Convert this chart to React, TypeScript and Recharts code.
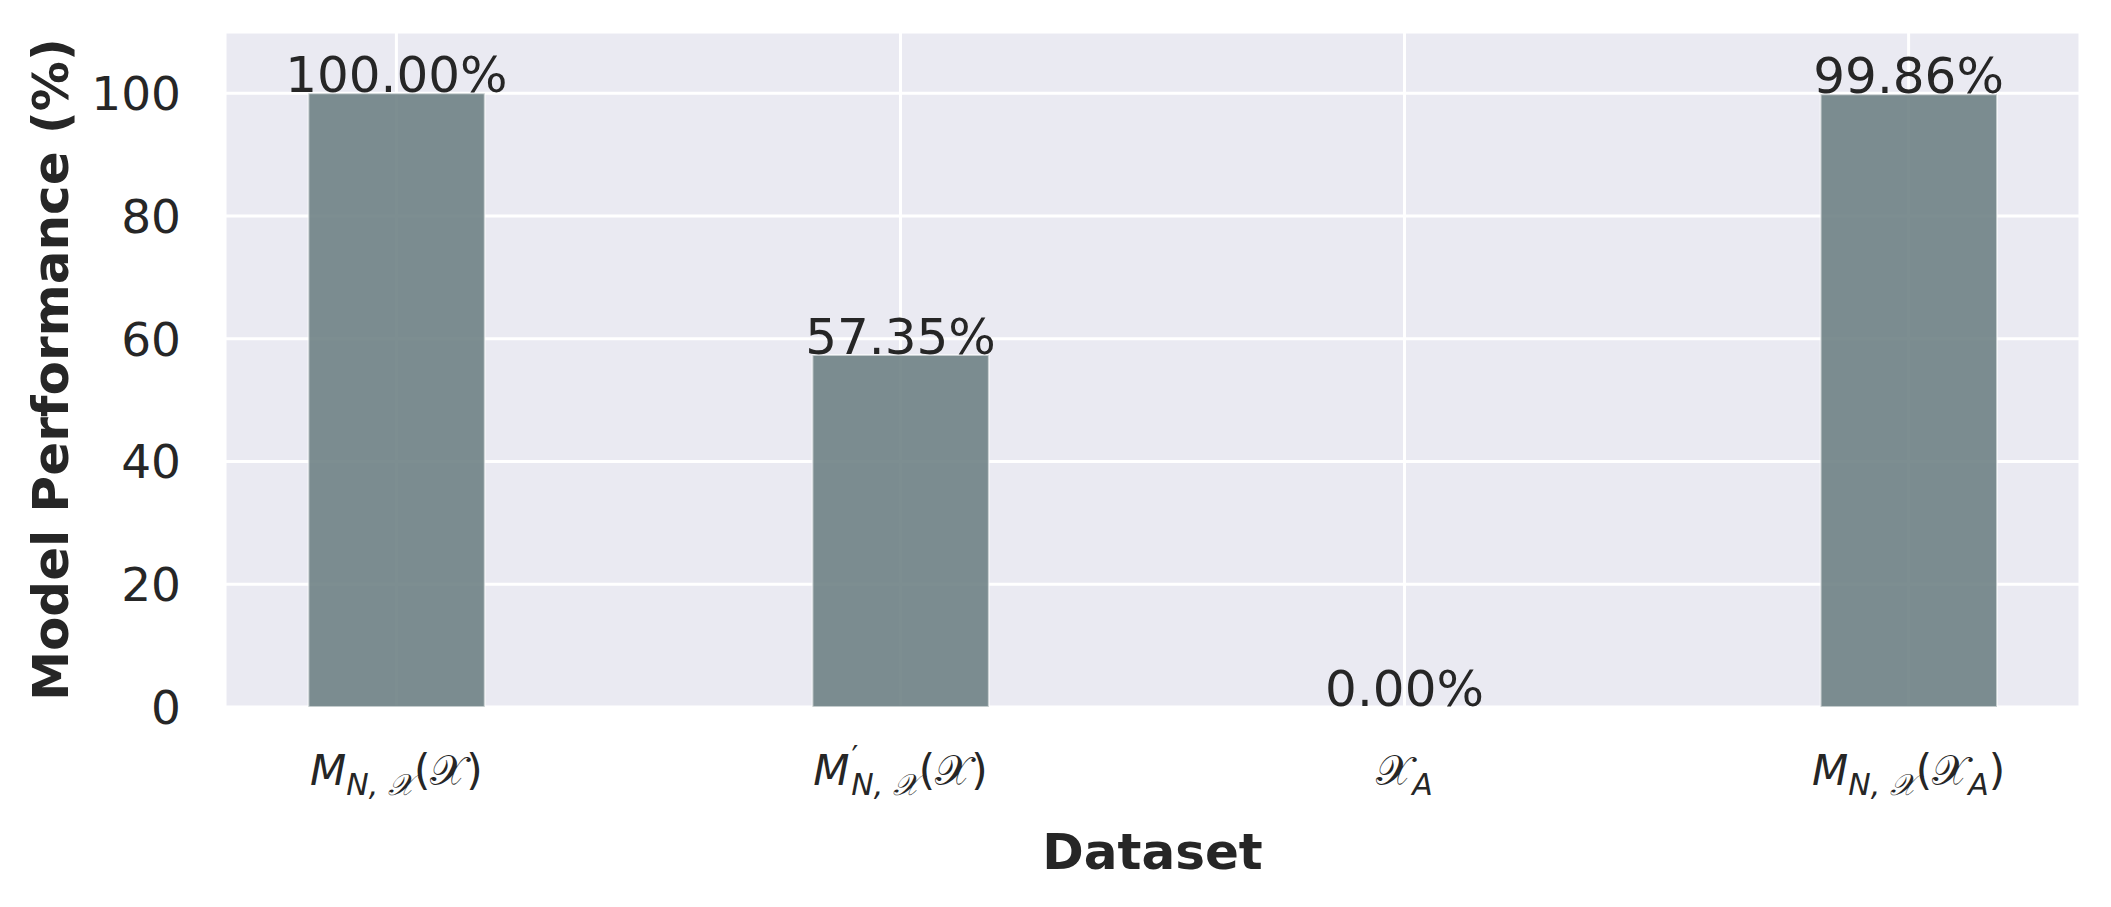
import { ComposedChart, Bar, Line, XAxis, YAxis, CartesianGrid, LabelList, Label } from "recharts";

const datasets = ["M_N,X(X)", "M'_N,X(X)", "X_A", "M_N,X(X_A)"];
const positions = [0, 1, 2, 3];
const performance = [100, 57.35, 0, 99.86];
const yTicks = [0, 20, 40, 60, 80, 100];

const data = datasets.map((name, i) => ({ name, pos: positions[i], value: performance[i] }));

const W = 2111;
const H = 907;
const X_AXIS_H = 30;
const M = { top: 32, right: 31, bottom: 200 - X_AXIS_H, left: 5 };
const Y_AXIS_W = 220;
const X_DOMAIN: [number, number] = [-0.34, 3.34];
const plotW = W - M.left - M.right - Y_AXIS_W;
const barSize = (plotW / (X_DOMAIN[1] - X_DOMAIN[0])) * 0.35;

const FONT = "'DejaVu Sans', sans-serif";
const INK = "#262626";
const SCRIPT_X = "\u{1D4B3}";

function MathTick(props: any) {
  const { x, y, payload } = props;
  const i = positions.indexOf(payload.value);
  const fs = 42;
  const sub = 30;
  const down = 10;
  let body: any = null;
  if (i === 0) {
    body = (
      <>
        <tspan fontStyle="italic">M</tspan>
        <tspan fontSize={sub} fontStyle="italic" dy={down}>N, {SCRIPT_X}</tspan>
        <tspan dy={-down}>({SCRIPT_X})</tspan>
      </>
    );
  } else if (i === 1) {
    body = (
      <>
        <tspan fontStyle="italic">M</tspan>
        <tspan fontSize={sub} dx={2} dy={-18}>′</tspan>
        <tspan fontSize={sub} fontStyle="italic" dx={-7} dy={18 + down}>N, {SCRIPT_X}</tspan>
        <tspan dy={-down}>({SCRIPT_X})</tspan>
      </>
    );
  } else if (i === 2) {
    body = (
      <>
        <tspan>{SCRIPT_X}</tspan>
        <tspan fontSize={sub} fontStyle="italic" dy={down}>A</tspan>
      </>
    );
  } else {
    body = (
      <>
        <tspan fontStyle="italic">M</tspan>
        <tspan fontSize={sub} fontStyle="italic" dy={down}>N, {SCRIPT_X}</tspan>
        <tspan dy={-down}>({SCRIPT_X}</tspan>
        <tspan fontSize={sub} fontStyle="italic" dy={down}>A</tspan>
        <tspan dy={-down}>)</tspan>
      </>
    );
  }
  return (
    <text x={x} y={y + 70} textAnchor="middle" fontSize={fs} fontFamily={FONT} fill={INK}>
      {body}
    </text>
  );
}

function ValueLabel(props: any) {
  const { x, y, value } = props;
  return (
    <text x={x} y={y - 1} textAnchor="middle" fontSize={50} fontFamily={FONT} fill={INK}>
      {Number(value).toFixed(2)}%
    </text>
  );
}

export default function App() {
  return (
    <div style={{ position: "absolute", left: 0, top: 0, background: "#fff" }}>
      <ComposedChart width={W} height={H} data={data} margin={M}>
        <CartesianGrid fill="#EAEAF2" stroke="#ffffff" strokeWidth={3} />
        <XAxis
          dataKey="pos"
          type="number"
          height={X_AXIS_H}
          domain={X_DOMAIN}
          ticks={positions}
          allowDataOverflow
          axisLine={false}
          tickLine={false}
          tick={<MathTick />}
          interval={0}
        >
          <Label
            content={({ viewBox }: any) => (
              <text
                x={viewBox.x + viewBox.width / 2}
                y={869}
                textAnchor="middle"
                fontSize={50}
                fontWeight="bold"
                fontFamily={FONT}
                fill={INK}
              >
                Dataset
              </text>
            )}
          />
        </XAxis>
        <YAxis
          width={Y_AXIS_W}
          domain={[0, 110]}
          ticks={yTicks}
          axisLine={false}
          tickLine={false}
          tickSize={0}
          tickMargin={44}
          tick={{ fontSize: 47, fontFamily: FONT, fill: INK }}
        >
          <Label
            content={({ viewBox }: any) => {
              const cx = 51;
              const cy = viewBox.y + viewBox.height / 2;
              return (
                <text
                  x={cx}
                  y={cy}
                  transform={`rotate(-90 ${cx} ${cy})`}
                  textAnchor="middle"
                  dominantBaseline="central"
                  fontSize={50}
                  fontWeight="bold"
                  fontFamily={FONT}
                  fill={INK}
                >
                  Model Performance (%)
                </text>
              );
            }}
          />
        </YAxis>
        <Bar
          dataKey="value"
          barSize={barSize}
          fill="#6f8285"
          fillOpacity={0.9}
          stroke="#ffffff"
          strokeOpacity={0.55}
          strokeWidth={2}
          isAnimationActive={false}
        />
        <Line
          dataKey="value"
          stroke="none"
          dot={false}
          activeDot={false}
          legendType="none"
          isAnimationActive={false}
        >
          <LabelList dataKey="value" content={<ValueLabel />} />
        </Line>
      </ComposedChart>
    </div>
  );
}
